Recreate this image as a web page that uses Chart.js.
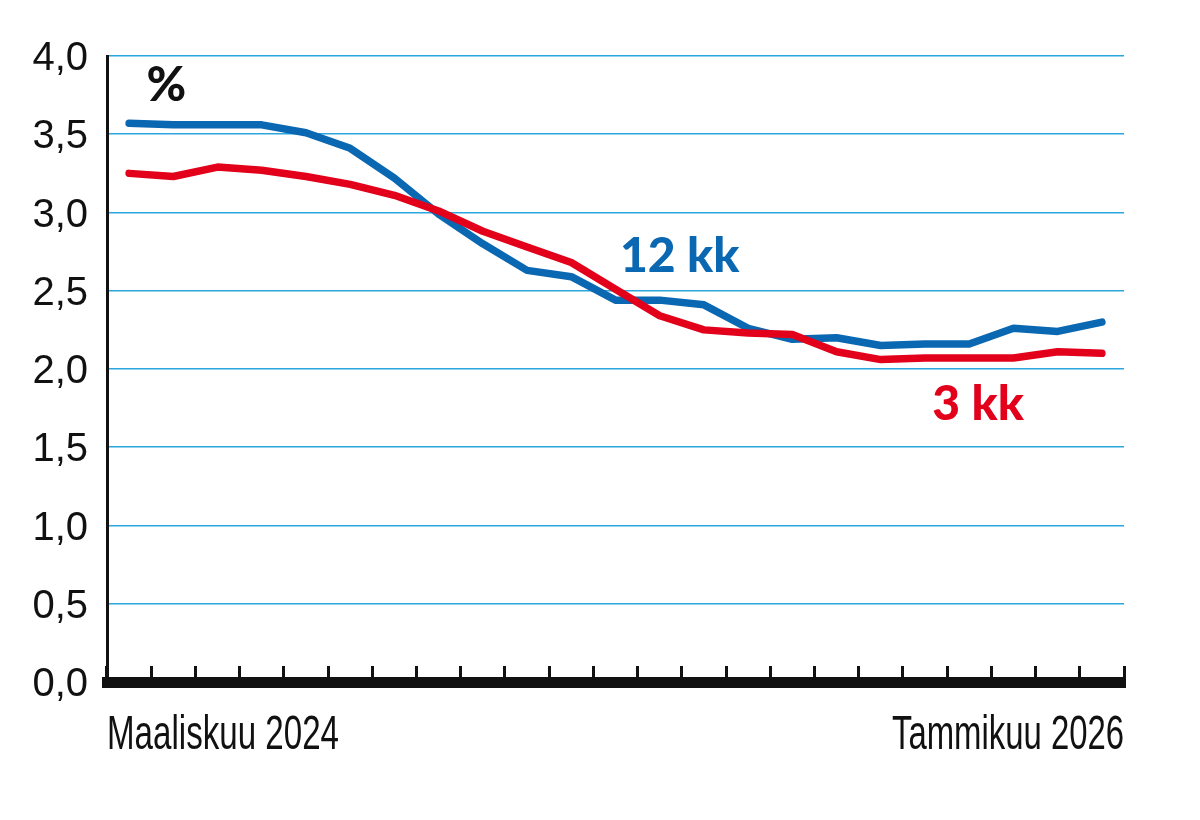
<!DOCTYPE html>
<html lang="fi">
<head>
<meta charset="utf-8">
<title>12 kk ja 3 kk</title>
<script src="https://cdn.jsdelivr.net/npm/chart.js@4.4.1/dist/chart.umd.min.js"></script>
<style>
  html, body { margin: 0; padding: 0; background: #fff; }
  #wrap { width: 1200px; height: 820px; position: relative; }
</style>
</head>
<body>
<div id="wrap"><canvas id="rateChart"></canvas></div>
<script>
// chart data
const months = [
  'Maaliskuu 2024', 'Huhtikuu 2024', 'Toukokuu 2024', 'Kesäkuu 2024', 'Heinäkuu 2024',
  'Elokuu 2024', 'Syyskuu 2024', 'Lokakuu 2024', 'Marraskuu 2024', 'Joulukuu 2024',
  'Tammikuu 2025', 'Helmikuu 2025', 'Maaliskuu 2025', 'Huhtikuu 2025', 'Toukokuu 2025',
  'Kesäkuu 2025', 'Heinäkuu 2025', 'Elokuu 2025', 'Syyskuu 2025', 'Lokakuu 2025',
  'Marraskuu 2025', 'Joulukuu 2025', 'Tammikuu 2026'
];
const values12kk = [3.57, 3.56, 3.56, 3.56, 3.51, 3.41, 3.22, 2.99, 2.80, 2.63, 2.59, 2.44,
  2.44, 2.41, 2.26, 2.19, 2.20, 2.15, 2.16, 2.16, 2.26, 2.24, 2.30];
const values3kk = [3.25, 3.23, 3.29, 3.27, 3.23, 3.18, 3.11, 3.01, 2.88, 2.78, 2.68, 2.51,
  2.34, 2.25, 2.23, 2.22, 2.11, 2.06, 2.07, 2.07, 2.07, 2.11, 2.10];
const seriesNames = ['12 kk', '3 kk'];
const yTicks = [0, 0.5, 1, 1.5, 2, 2.5, 3, 3.5, 4];
const yTickLabels = ['0,0', '0,5', '1,0', '1,5', '2,0', '2,5', '3,0', '3,5', '4,0'];
const unitLabel = '%';
const xEndLabels = [months[0], months[months.length - 1]];

const BLUE = '#0a67b2';
const RED = '#e2001a';
const GRID = '#2ba6df';
const INK = '#111111';

// condensed text, squeezed to a given width when the font is too wide
function drawSquashed(ctx, text, x, y, align, maxWidth) {
  const w = ctx.measureText(text).width;
  const k = Math.min(1, maxWidth / w);
  ctx.save();
  ctx.translate(x, y);
  ctx.scale(k, 1);
  ctx.textAlign = align;
  ctx.fillText(text, 0, 0);
  ctx.restore();
}

const annotate = {
  id: 'annotate',
  afterDraw(chart, args, opts) {
    const { ctx, chartArea, scales } = chart;
    const x = scales.x;
    const y = scales.y;
    ctx.save();
    ctx.textAlign = 'center';
    ctx.textBaseline = 'middle';

    ctx.font = opts.unitFont;
    ctx.fillStyle = INK;
    ctx.fillText(unitLabel, x.getPixelForValue(opts.unitAt[0]), y.getPixelForValue(opts.unitAt[1]));

    ctx.font = opts.seriesFont;
    chart.data.datasets.forEach((ds, i) => {
      const at = opts.seriesAt[i];
      ctx.fillStyle = ds.borderColor;
      ctx.fillText(ds.label, x.getPixelForValue(at[0]), y.getPixelForValue(at[1]));
    });

    ctx.font = opts.axisFont;
    ctx.fillStyle = INK;
    ctx.textBaseline = 'alphabetic';
    const base = chartArea.bottom + opts.axisGap;
    drawSquashed(ctx, xEndLabels[0], chartArea.left, base, 'left', opts.axisWidth);
    drawSquashed(ctx, xEndLabels[1], chartArea.right, base, 'right', opts.axisWidth);
    ctx.restore();
  }
};

function renderChart() {
  const ctx = document.getElementById('rateChart').getContext('2d');
  new Chart(ctx, {
    type: 'line',
    data: {
      labels: months,
      datasets: [
        {
          label: seriesNames[0],
          data: values12kk,
          borderColor: BLUE,
          borderWidth: 7.5,
          order: 2
        },
        {
          label: seriesNames[1],
          data: values3kk,
          borderColor: RED,
          borderWidth: 7.5,
          order: 1
        }
      ]
    },
    options: {
      responsive: true,
      maintainAspectRatio: false,
      animation: false,
      layout: { padding: { top: 56, right: 76, bottom: 0, left: 0 } },
      elements: {
        point: { radius: 0, hoverRadius: 0 },
        line: { tension: 0, borderCapStyle: 'round', borderJoinStyle: 'round' }
      },
      scales: {
        x: {
          type: 'category',
          offset: true,
          grid: {
            display: true,
            offset: true,
            drawOnChartArea: false,
            drawTicks: true,
            tickLength: -16,
            tickWidth: 3,
            tickColor: INK
          },
          border: { display: true, color: INK, width: 11 },
          ticks: { display: false },
          afterFit: scale => { scale.height = 138; }
        },
        y: {
          min: 0,
          max: 4,
          afterBuildTicks: scale => { scale.ticks = yTicks.map(v => ({ value: v })); },
          grid: {
            color: c => (c.tick && c.tick.value === 0 ? 'rgba(0,0,0,0)' : GRID),
            lineWidth: 1.6,
            drawTicks: false
          },
          border: { display: true, color: INK, width: 3 },
          ticks: {
            padding: 19,
            labelOffset: 3,
            color: INK,
            font: { family: '"Liberation Sans Narrow", "Liberation Sans", Arial, sans-serif', size: 40 },
            callback: (value, i) => yTickLabels[yTicks.indexOf(value)]
          },
          afterFit: scale => { scale.width = 107; }
        }
      },
      plugins: {
        legend: { display: false },
        tooltip: { enabled: false },
        annotate: {
          unitAt: [0.84, 3.81],
          seriesAt: [[12.45, 2.72], [19.2, 1.77]],
          unitFont: '900 48px Lato, "Liberation Sans", Arial, sans-serif',
          seriesFont: '900 48px Lato, "Liberation Sans", Arial, sans-serif',
          axisFont: '49px "Liberation Sans Narrow", "Liberation Sans", Arial, sans-serif',
          axisGap: 67,
          axisWidth: 232
        }
      }
    },
    plugins: [annotate]
  });
}

renderChart();
</script>
</body>
</html>
